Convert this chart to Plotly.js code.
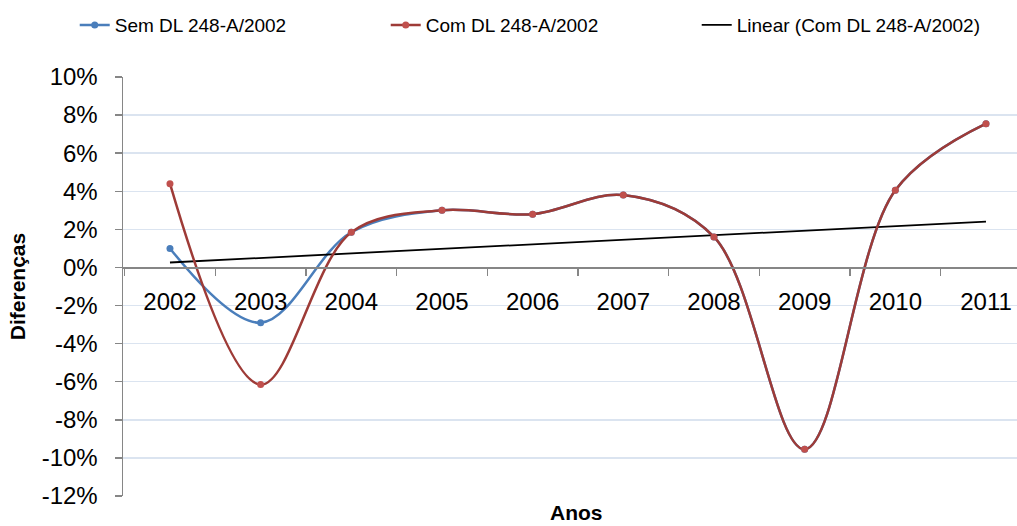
<!DOCTYPE html>
<html>
<head>
<meta charset="utf-8">
<script src="https://cdn.plot.ly/plotly-3.0.1.min.js"></script>
<style>html,body{margin:0;padding:0;background:#fff;}#chart{width:1017px;height:526px;}</style>
</head>
<body>
<div id="chart"></div>
<script>
var years = ["2002","2003","2004","2005","2006","2007","2008","2009","2010","2011"];
var semDL = [1.0, -2.9, 1.85, 3.0, 2.8, 3.8, 1.6, -9.55, 4.05, 7.55];
var comDL = [4.4, -6.15, 1.85, 3.0, 2.8, 3.8, 1.6, -9.55, 4.05, 7.55];
var trendYears = ["2002","2011"];
var trendValues = [0.26, 2.41];
var yTicks = [-12,-10,-8,-6,-4,-2,0,2,4,6,8,10];
var yTickLabels = yTicks.map(function(v){ return (v < 0 ? "-" + Math.abs(v) : String(v)) + "%"; });

var traces = [
  {x: years, y: semDL, name: "Sem DL 248-A/2002", type: "scatter", mode: "lines+markers", legendrank: 1,
   line: {color: "#4a7ebb", width: 2.5, shape: "spline", smoothing: 1},
   marker: {color: "#4a7ebb", size: 7}},
  {x: trendYears, y: trendValues, name: "Linear (Com DL 248-A/2002)", type: "scatter", mode: "lines", legendrank: 3,
   line: {color: "#000000", width: 1.8}},
  {x: years, y: comDL, name: "Com DL 248-A/2002", type: "scatter", mode: "lines+markers", legendrank: 2,
   line: {color: "#9e3b37", width: 2.5, shape: "spline", smoothing: 1},
   marker: {color: "#c0504d", size: 7}}
];

var layout = {
  width: 1017, height: 526,
  margin: {l: 123, r: 0, t: 77, b: 30},
  paper_bgcolor: "#ffffff", plot_bgcolor: "#ffffff",
  font: {family: "Liberation Sans, Arial, sans-serif", color: "#000000"},
  showlegend: true,
  legend: {orientation: "h", x: -0.054, xanchor: "left", y: 1.124, yanchor: "middle",
    traceorder: "normal", entrywidth: 266, entrywidthmode: "pixels",
    font: {family: "Liberation Sans, Arial, sans-serif", size: 19, color: "#000000"}},
  xaxis: {type: "category", range: [-0.518, 9.342], anchor: "free", position: 12/22,
    showline: true, linecolor: "#868686", linewidth: 1.5,
    ticks: "outside", tickson: "boundaries", ticklen: 7, tickwidth: 1.5, tickcolor: "#868686",
    showgrid: false, zeroline: false, ticklabelstandoff: 12,
    tickfont: {family: "Liberation Sans, Arial, sans-serif", size: 24, color: "#000000"}},
  yaxis: {range: [-12, 10], tickmode: "array", tickvals: yTicks, ticktext: yTickLabels,
    showline: true, linecolor: "#868686", linewidth: 1.5,
    ticks: "outside", ticklen: 7, tickwidth: 1.5, tickcolor: "#868686",
    showgrid: true, gridcolor: "#dbe4f0", gridwidth: 1.5, zeroline: false,
    ticklabelstandoff: 12,
    tickfont: {family: "Liberation Sans, Arial, sans-serif", size: 24, color: "#000000"},
    title: {text: "Diferenças", standoff: 10, font: {family: "Liberation Sans, Arial, sans-serif", size: 21, color: "#000000", weight: "bold"}}},
  annotations: [
    {text: "<b>Anos</b>", xref: "paper", yref: "paper", x: 0.5078, y: -0.008, xanchor: "center", yanchor: "top",
     showarrow: false, font: {family: "Liberation Sans, Arial, sans-serif", size: 21, color: "#000000"}}
  ]
};

Plotly.newPlot("chart", traces, layout, {displayModeBar: false, staticPlot: true});
</script>
</body>
</html>
